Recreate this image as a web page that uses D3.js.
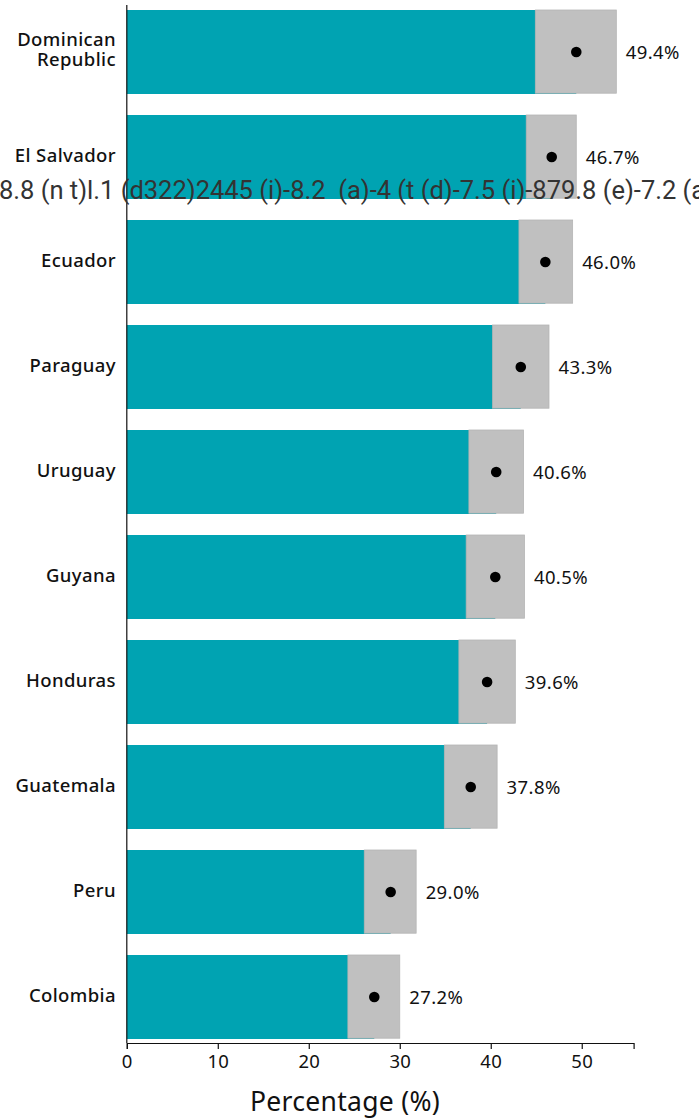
<!DOCTYPE html>
<html>
<head>
<meta charset="utf-8">
<script src="https://cdn.jsdelivr.net/npm/d3@7"></script>
<style>
  html, body { margin: 0; padding: 0; background: #fff; }
  svg { display: block; }
</style>
</head>
<body>
<svg id="chart" width="699" height="1120"></svg>
<script>
const countries = ["Dominican Republic", "El Salvador", "Ecuador", "Paraguay", "Uruguay",
                   "Guyana", "Honduras", "Guatemala", "Peru", "Colombia"];
const estimates = [49.4, 46.7, 46.0, 43.3, 40.6, 40.5, 39.6, 37.8, 29.0, 27.2];
const lowerCI   = [44.9, 43.9, 43.1, 40.2, 37.6, 37.3, 36.5, 34.9, 26.1, 24.3];
const upperCI   = [53.8, 49.4, 49.0, 46.4, 43.6, 43.7, 42.7, 40.7, 31.8, 30.0];
const xTicks    = [0, 10, 20, 30, 40, 50];
const xTitle    = "Percentage (%)";
const strayText = "8.8 (n t)l.1 (d322)2445 (i)-8.2  (a)-4 (t (d)-7.5 (i)-879.8 (e)-7.2 (a";

const data = countries.map((c, i) => ({ country: c, est: estimates[i], lo: lowerCI[i], hi: upperCI[i] }));

const svg = d3.select("#chart");
const FONT = "'Noto Sans', sans-serif";

const x = d3.scaleLinear().domain([0, 55.7]).range([126.8, 633.6]);
const y = d3.scaleBand().domain(countries).range([-0.5, 1049.5]).paddingInner(0.2).paddingOuter(0.1);
const axisY = 1043;

// teal bars to the point estimate
svg.append("g").selectAll("rect").data(data).join("rect")
  .attr("x", x(0))
  .attr("y", d => y(d.country))
  .attr("width", d => x(d.est) - x(0))
  .attr("height", y.bandwidth())
  .attr("fill", "#00a3b2");

// grey confidence-interval boxes
svg.append("g").selectAll("rect").data(data).join("rect")
  .attr("x", d => x(d.lo))
  .attr("y", d => y(d.country))
  .attr("width", d => x(d.hi) - x(d.lo))
  .attr("height", y.bandwidth() - 0.8)
  .attr("fill", "#c0c0c0")
  .attr("stroke", "#b4b4b4")
  .attr("stroke-width", 0.8);

// points
svg.append("g").selectAll("circle").data(data).join("circle")
  .attr("cx", d => x(d.est))
  .attr("cy", d => y(d.country) + y.bandwidth() / 2)
  .attr("r", 5.3)
  .attr("fill", "#000");

// value labels
svg.append("g").selectAll("text").data(data).join("text")
  .attr("x", d => x(d.hi) + 9.5)
  .attr("y", d => y(d.country) + y.bandwidth() / 2 + 7)
  .attr("font-family", FONT)
  .attr("font-size", 18.5)
  .attr("letter-spacing", 0.4)
  .attr("fill", "#111")
  .text(d => d.est.toFixed(1) + "%");

// country labels
const lab = svg.append("g").selectAll("text").data(data).join("text")
  .attr("x", 116)
  .attr("text-anchor", "end")
  .attr("font-family", FONT)
  .attr("font-size", 18.5)
  .attr("letter-spacing", 0.4)
  .attr("font-weight", 500)
  .attr("fill", "#111");
lab.each(function(d) {
  const t = d3.select(this);
  const cy = y(d.country) + y.bandwidth() / 2;
  if (d.country === "Dominican Republic") {
    t.append("tspan").attr("x", 116).attr("y", cy - 6).text("Dominican");
    t.append("tspan").attr("x", 116).attr("y", cy + 14).text("Republic");
  } else {
    t.attr("y", cy + 4.5).text(d.country);
  }
});

// y axis line
svg.append("line")
  .attr("x1", x(0)).attr("x2", x(0))
  .attr("y1", 5).attr("y2", axisY)
  .attr("stroke", "#111").attr("stroke-width", 1.2);

// x axis
const xAxis = svg.append("g")
  .attr("transform", `translate(0,${axisY})`)
  .call(d3.axisBottom(x).tickValues(xTicks).tickSize(6).tickPadding(6).tickFormat(d3.format("d")));
xAxis.select(".domain").attr("stroke", "#111").attr("stroke-width", 1.2);
xAxis.selectAll(".tick line").attr("stroke", "#111").attr("stroke-width", 1.2);
xAxis.selectAll(".tick text")
  .attr("font-family", FONT)
  .attr("font-size", 18.5)
  .attr("letter-spacing", 0.3)
  .attr("fill", "#111");

// x title
svg.append("text")
  .attr("x", 345)
  .attr("y", 1111)
  .attr("text-anchor", "middle")
  .attr("font-family", FONT)
  .attr("font-size", 26.5)
  .attr("letter-spacing", 0.3)
  .attr("fill", "#111")
  .text(xTitle);

// stray text artifact from the source
svg.append("text")
  .attr("x", -1)
  .attr("y", 199)
  .attr("font-family", "Roboto, sans-serif")
  .attr("font-size", 25.5)
  .attr("fill", "#333")
  .style("white-space", "pre")
  .text(strayText);
</script>
</body>
</html>
